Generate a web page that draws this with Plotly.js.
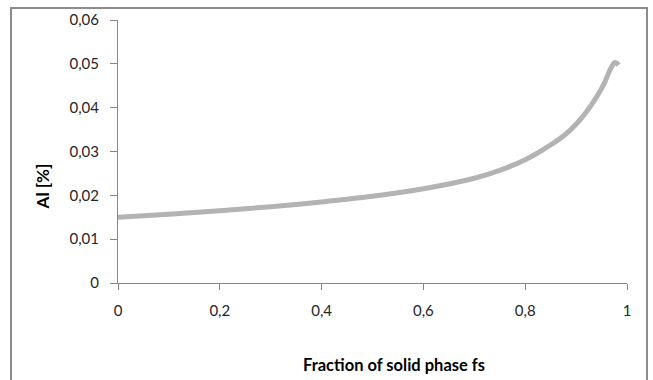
<!DOCTYPE html>
<html>
<head>
<meta charset="utf-8">
<script src="https://cdn.plot.ly/plotly-3.0.1.min.js"></script>
<style>
html,body{margin:0;padding:0;background:#fff;}
#chart{width:653px;height:380px;}
</style>
</head>
<body>
<div id="chart"></div>
<script>
// Data
var fractionSolid = [0, 0.1, 0.2, 0.3, 0.4, 0.5, 0.6, 0.7, 0.75, 0.8, 0.85, 0.88, 0.9, 0.92, 0.94, 0.955, 0.965, 0.972, 0.976, 0.98, 0.983];
var alPercent = [0.0150, 0.0157, 0.0165, 0.0174, 0.0185, 0.0198, 0.0215, 0.0239, 0.0257, 0.0281, 0.0315, 0.0340, 0.0362, 0.0390, 0.0424, 0.0455, 0.0482, 0.0498, 0.0503, 0.0501, 0.0497];
var xTickVals = [0, 0.2, 0.4, 0.6, 0.8, 1];
var xTickText = ["0", "0,2", "0,4", "0,6", "0,8", "1"];
var yTickVals = [0, 0.01, 0.02, 0.03, 0.04, 0.05, 0.06];
var yTickText = ["0", "0,01", "0,02", "0,03", "0,04", "0,05", "0,06"];
var xTitle = "Fraction of solid phase fs";
var yTitle = "Al [%]";

var font = "Lato, 'Open Sans', sans-serif";
var trace = {
  x: fractionSolid,
  y: alPercent,
  type: "scatter",
  mode: "lines",
  line: {color: "#b3b3b3", width: 5, shape: "spline", smoothing: 0.8},
  hoverinfo: "none"
};

var layout = {
  width: 653,
  height: 380,
  margin: {l: 118, r: 26, t: 20, b: 97},
  paper_bgcolor: "#ffffff",
  plot_bgcolor: "#ffffff",
  showlegend: false,
  font: {family: font, size: 14, color: "#262626"},
  xaxis: {
    range: [0, 1],
    tickvals: xTickVals,
    ticktext: xTickText,
    showgrid: false,
    zeroline: false,
    showline: true,
    linecolor: "#868686",
    linewidth: 1,
    ticks: "outside",
    ticklen: 6,
    tickcolor: "#868686",
    ticklabelstandoff: 8,
    tickfont: {family: font, size: 15, color: "#262626"},
    fixedrange: true
  },
  yaxis: {
    range: [0, 0.06],
    tickvals: yTickVals,
    ticktext: yTickText,
    showgrid: false,
    zeroline: false,
    showline: true,
    linecolor: "#868686",
    linewidth: 1,
    ticks: "outside",
    ticklen: 7,
    tickcolor: "#868686",
    ticklabelstandoff: 8,
    tickfont: {family: font, size: 15, color: "#262626"},
    fixedrange: true
  },
  annotations: [
    {text: "<b>" + xTitle + "</b>", xref: "paper", yref: "paper", x: 0.542, y: -0.31,
     xanchor: "center", yanchor: "middle", showarrow: false,
     font: {family: font, size: 16.5, color: "#000000"}},
    {text: "<b>" + yTitle + "</b>", xref: "paper", yref: "paper", x: -0.149, y: 0.368,
     xanchor: "center", yanchor: "middle", textangle: -90, showarrow: false,
     font: {family: font, size: 17, color: "#000000"}}
  ],
  shapes: [
    {type: "rect", xref: "paper", yref: "paper", x0: -0.2102, x1: 1.0393, y0: -0.45, y1: 1.0456,
     line: {color: "#8c8c8c", width: 2}, fillcolor: "rgba(0,0,0,0)", layer: "below"}
  ]
};

Plotly.newPlot("chart", [trace], layout, {staticPlot: true, displayModeBar: false});
</script>
</body>
</html>
